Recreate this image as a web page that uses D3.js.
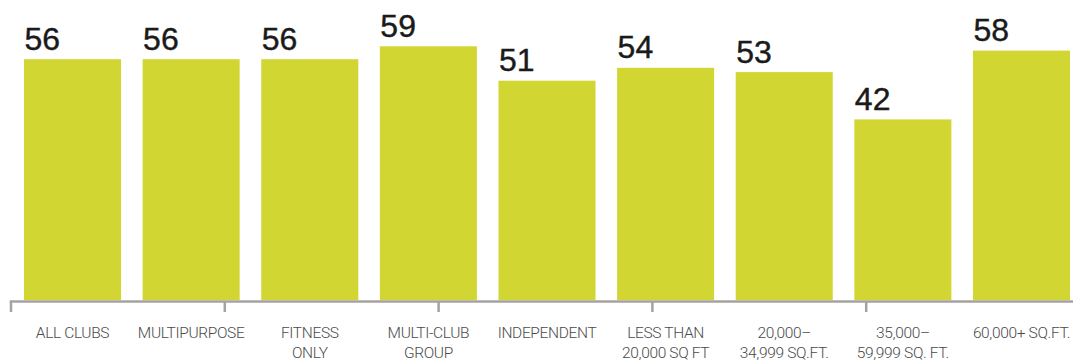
<!DOCTYPE html>
<html><head><meta charset="utf-8">
<script src="https://cdn.jsdelivr.net/npm/d3@7"></script>
<style>html,body{margin:0;padding:0;background:#fff;overflow:hidden}</style>
</head><body>
<svg id="c" width="1073" height="360"></svg>
<script>
const categories = [
  ["ALL CLUBS"], ["MULTIPURPOSE"], ["FITNESS", "ONLY"], ["MULTI-CLUB", "GROUP"],
  ["INDEPENDENT"], ["LESS THAN", "20,000 SQ FT"], ["20,000–", "34,999 SQ.FT."],
  ["35,000–", "59,999 SQ. FT."], ["60,000+ SQ.FT."]
];
const values = [56, 56, 56, 59, 51, 54, 53, 42, 58];
const axisTicks = [0, 1, 2, 3, 4, 5];

const svg = d3.select("#c");
const ids = categories.map((c, i) => i);
const x = d3.scaleBand().domain(ids).range([24, 1070]).paddingInner(0.182).paddingOuter(0);
const y = d3.scaleLinear().domain([0, 70]).range([300, -1]);
const tx = d3.scaleLinear().domain([0, 5]).range([11, 1080]);

svg.append("g").selectAll("rect").data(values).join("rect")
  .attr("x", (d, i) => x(i)).attr("width", x.bandwidth())
  .attr("y", d => y(d)).attr("height", d => y(0) - y(d))
  .attr("fill", "#d1d632");

svg.append("g").selectAll("text").data(values).join("text")
  .attr("x", (d, i) => x(i) + 0.5).attr("y", d => y(d) - 9.5)
  .attr("font-family", "Liberation Sans, Arial, sans-serif")
  .attr("font-size", 32).attr("fill", "#1a1a1a")
  .attr("stroke", "#1a1a1a").attr("stroke-width", 0.4)
  .text(d => d);

// axis line and ticks
const ax = svg.append("g").attr("stroke", "#a6a29f").attr("stroke-width", 2.5);
ax.append("line").attr("x1", tx(0) - 1.25).attr("x2", 1073).attr("y1", y(0) + 1.5).attr("y2", y(0) + 1.5);
ax.selectAll("line.t").data(axisTicks).join("line").attr("class", "t")
  .attr("x1", d => tx(d)).attr("x2", d => tx(d))
  .attr("y1", y(0) + 1).attr("y2", y(0) + 12);

// category labels
const lab = svg.append("g").selectAll("text").data(categories).join("text")
  .attr("x", (d, i) => x(i) + x.bandwidth() / 2).attr("y", 338)
  .attr("text-anchor", "middle")
  .attr("font-family", "Roboto, sans-serif").attr("font-weight", 300)
  .attr("font-size", 15.5).attr("letter-spacing", "-0.35px").attr("fill", "#4a4a4a");
lab.selectAll("tspan").data(d => d).join("tspan")
  .attr("x", function () { return this.parentNode.getAttribute("x"); })
  .attr("dy", (d, i) => i === 0 ? 0 : 20)
  .text(d => d);
</script>
</body></html>
